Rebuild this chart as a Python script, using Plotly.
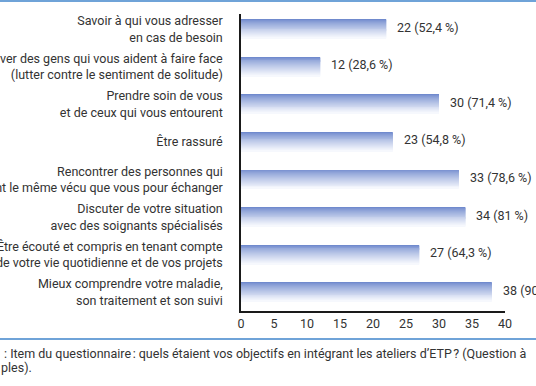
import plotly.graph_objects as go

categories = [
    "Savoir à qui vous adresser<br>en cas de besoin",
    "Trouver des gens qui vous aident à faire face<br>(lutter contre le sentiment de solitude)",
    "Prendre soin de vous<br>et de ceux qui vous entourent",
    "Être rassuré",
    "Rencontrer des personnes qui<br>ont le même vécu que vous pour échanger",
    "Discuter de votre situation<br>avec des soignants spécialisés",
    "Être écouté et compris en tenant compte<br>de votre vie quotidienne et de vos projets",
    "Mieux comprendre votre maladie,<br>son traitement et son suivi",
]
counts = [22, 12, 30, 23, 33, 34, 27, 38]
percents = ["52,4", "28,6", "71,4", "54,8", "78,6", "81", "64,3", "90,5"]
x_ticks = [0, 5, 10, 15, 20, 25, 30, 35, 40]
caption_line1 = ": Item du questionnaire\u202f: quels étaient vos objectifs en intégrant les ateliers d’ETP\u202f? (Question à"
caption_line2 = "ples)."

FONT = "Roboto"
FS = 12.5
TXT = "#333333"

fig = go.Figure()

# gradient bars: layered thin bars from dark (top) to light (bottom)
n_steps = 20
bar_width = 0.5
top_rgb = (112, 138, 205)
bot_rgb = (246, 248, 253)
step = bar_width / n_steps
for i in range(n_steps):
    t = i / (n_steps - 1)
    t2 = t ** 0.8
    r = round(top_rgb[0] + (bot_rgb[0] - top_rgb[0]) * t2)
    g = round(top_rgb[1] + (bot_rgb[1] - top_rgb[1]) * t2)
    b = round(top_rgb[2] + (bot_rgb[2] - top_rgb[2]) * t2)
    fig.add_trace(go.Bar(
        x=counts, y=categories, orientation="h",
        offset=-bar_width / 2 + i * step,
        width=step * 1.15 if i < n_steps - 1 else step,
        marker=dict(color=f"rgb({r},{g},{b})", line=dict(width=0)),
        hoverinfo="skip", showlegend=False,
    ))

for c, cnt, pct in zip(categories, counts, percents):
    fig.add_annotation(
        x=cnt, y=c, xref="x", yref="y",
        text=f"{cnt} ({pct} %)", showarrow=False,
        xanchor="left", yanchor="middle", xshift=9, yshift=2,
        font=dict(family=FONT, size=FS, color=TXT),
    )

L, R, T, B = 241, 31, 14, 75
W, H = 536, 386
pw, ph = W - L - R, H - T - B

def px_x(px):
    return (px - L) / pw

def px_y(py):
    return (H - B - py) / ph

fig.add_shape(type="line", xref="paper", yref="paper",
              x0=px_x(0), x1=px_x(W), y0=px_y(1), y1=px_y(1),
              line=dict(color="#6fa3d8", width=1.8))
fig.add_shape(type="line", xref="paper", yref="paper",
              x0=px_x(0), x1=px_x(W), y0=px_y(339), y1=px_y(339),
              line=dict(color="#6fa3d8", width=1.8))

fig.add_annotation(xref="paper", yref="paper", x=px_x(2), y=px_y(353),
                   text=caption_line1, showarrow=False, xanchor="left", yanchor="middle",
                   font=dict(family=FONT, size=FS, color=TXT))
fig.add_annotation(xref="paper", yref="paper", x=px_x(-1), y=px_y(368),
                   text=caption_line2, showarrow=False, xanchor="left", yanchor="middle",
                   font=dict(family=FONT, size=FS, color=TXT))

fig.update_layout(
    width=W, height=H,
    margin=dict(l=L, r=R, t=T, b=B, pad=0),
    paper_bgcolor="white", plot_bgcolor="white",
    barmode="overlay", bargap=0.5,
    font=dict(family=FONT, size=FS, color=TXT),
    showlegend=False,
)
fig.update_xaxes(range=[0, 40], tickvals=x_ticks, showgrid=False, zeroline=False,
                 showline=True, linecolor="#1a1a1a", linewidth=1.5, ticks="",
                 tickfont=dict(family=FONT, size=FS, color=TXT), automargin=False)
fig.update_yaxes(range=[7.5, -0.4], showgrid=False, zeroline=False,
                 showline=True, linecolor="#1a1a1a", linewidth=1.5, ticks="",
                 ticklabelstandoff=14,
                 tickfont=dict(family=FONT, size=FS, color=TXT), automargin=False)

fig.write_html("out.html", config={"displayModeBar": False},
               post_script="document.body.style.margin='0';")
